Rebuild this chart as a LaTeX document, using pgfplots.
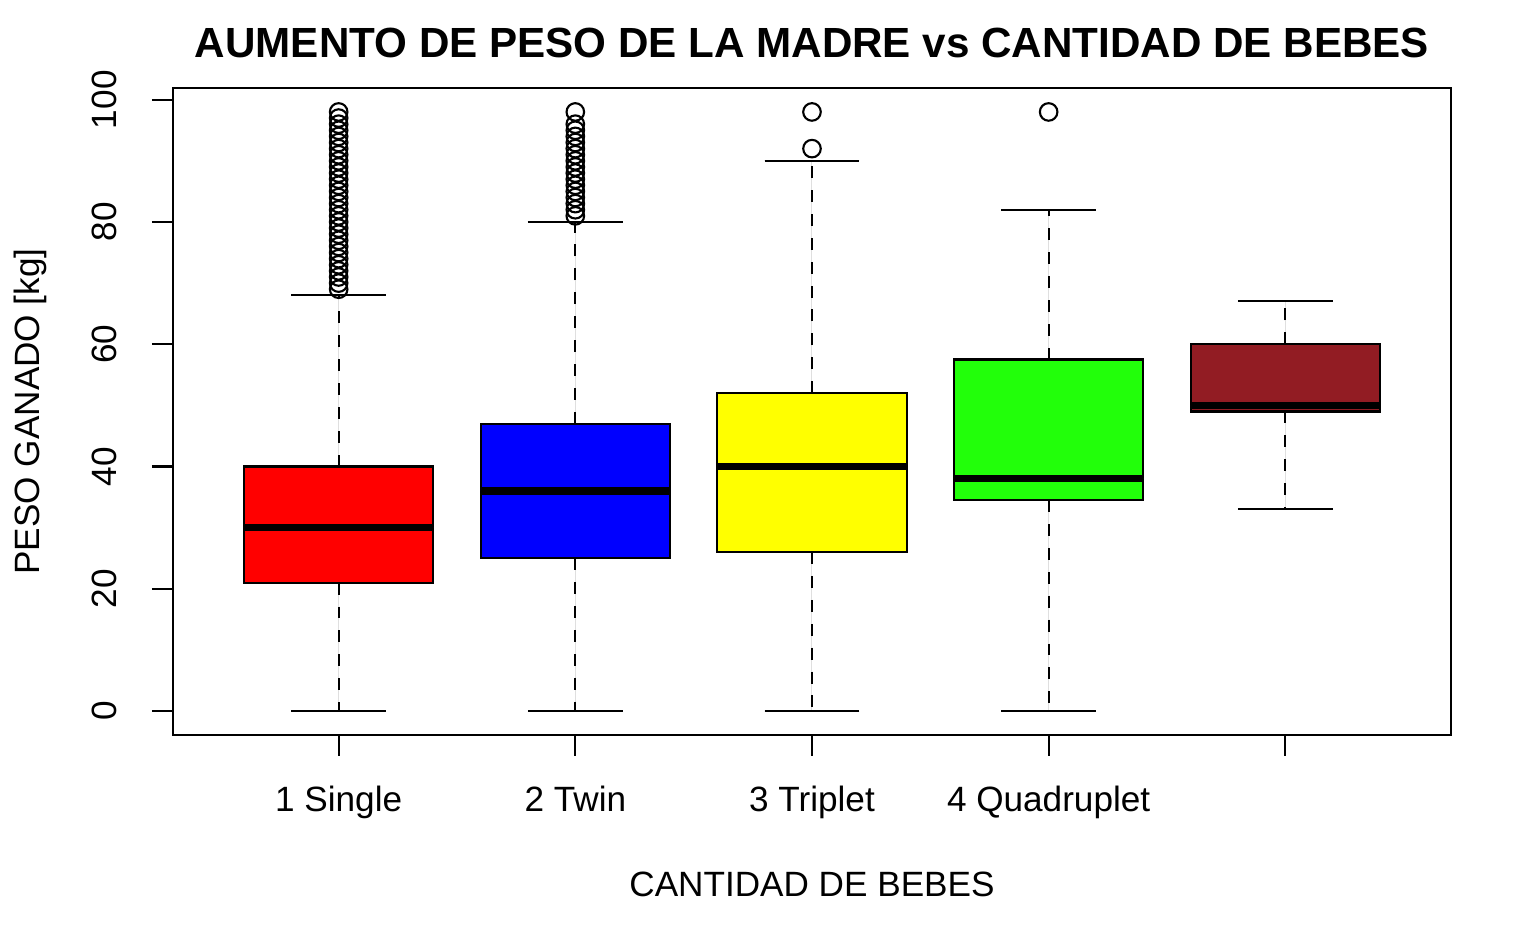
\documentclass[border=0pt]{standalone}
\usepackage{pgfplots}
\pgfplotsset{compat=1.18}
\usepgfplotslibrary{statistics}
\usepackage{fontspec}
\setmainfont{Liberation Sans}
\definecolor{bxred}{HTML}{FF0000}
\definecolor{bxblue}{HTML}{0000FF}
\definecolor{bxyellow}{HTML}{FFFF00}
\definecolor{bxgreen}{HTML}{22FF0A}
\definecolor{bxbrown}{HTML}{921C23}

\pgfplotsset{
  rbox/.style={
    boxplot/draw direction=y,
    boxplot/box extend=0.8,
    boxplot/whisker extend=0.4,
    boxplot/every box/.style={draw=black, line width=0.6pt},
    boxplot/every median/.style={draw=black, line width=2.1pt},
    boxplot/draw/lower whisker/.code={%
      \draw[black, line width=0.6pt, dash pattern=on 3.4pt off 3.4pt]
        (boxplot box cs:\pgfplotsboxplotvalue{lower quartile},0.5) --
        (boxplot box cs:\pgfplotsboxplotvalue{lower whisker},0.5);
      \draw[black, line width=0.6pt]
        (boxplot whisker cs:\pgfplotsboxplotvalue{lower whisker},0) --
        (boxplot whisker cs:\pgfplotsboxplotvalue{lower whisker},1);
    },
    boxplot/draw/upper whisker/.code={%
      \draw[black, line width=0.6pt, dash pattern=on 3.4pt off 3.4pt]
        (boxplot box cs:\pgfplotsboxplotvalue{upper quartile},0.5) --
        (boxplot box cs:\pgfplotsboxplotvalue{upper whisker},0.5);
      \draw[black, line width=0.6pt]
        (boxplot whisker cs:\pgfplotsboxplotvalue{upper whisker},0) --
        (boxplot whisker cs:\pgfplotsboxplotvalue{upper whisker},1);
    },
    mark=o, mark size=2.5pt,
    mark options={draw=black, fill=none, line width=0.6pt, solid},
  }
}

\begin{document}
\begin{tikzpicture}
\begin{axis}[
  width=12.78cm, height=6.47cm, scale only axis,
  xmin=0.3, xmax=5.7, ymin=-3.92, ymax=101.92,
  axis line style={line width=0.6pt},
  every tick/.style={black, line width=0.6pt},
  tick align=outside, major tick length=0.21cm,
  tick pos=left,
  /pgf/number format/assume math mode=true,
  xtick={1,2,3,4,5},
  xticklabels={1 Single, 2 Twin, 3 Triplet, 4 Quadruplet, {}},
  ytick={0,20,40,60,80,100},
  ticklabel style={font=\fontsize{10}{12}\selectfont},
  xticklabel style={anchor=base, yshift=-0.56cm},
  yticklabel style={rotate=90, anchor=base, yshift=0.35cm},
  title={AUMENTO DE PESO DE LA MADRE vs CANTIDAD DE BEBES},
  title style={font=\bfseries\fontsize{12}{14}\selectfont, at={(0.5,1)}, anchor=base, yshift=0.09cm},
  xlabel={CANTIDAD DE BEBES},
  xlabel style={font=\fontsize{10}{12}\selectfont, at={(0.5,0)}, anchor=base, yshift=-1.62cm},
  ylabel={PESO GANADO [kg]},
  ylabel style={font=\fontsize{10}{12}\selectfont, at={(0,0.5)}, anchor=base, yshift=1.33cm},
  clip=false,
]
% 1 Single
\addplot[rbox, fill=bxred, boxplot prepared={draw position=1,
  lower whisker=0, lower quartile=21, median=30, upper quartile=40, upper whisker=68}]
  table[row sep=\\, y index=0] {y\\ 69\\ 70\\ 71\\ 72\\ 73\\ 74\\ 75\\ 76\\ 77\\ 78\\ 79\\ 80\\ 81\\ 82\\ 83\\ 84\\ 85\\ 86\\ 87\\ 88\\ 89\\ 90\\ 91\\ 92\\ 93\\ 94\\ 95\\ 96\\ 97\\ 98\\};
% 2 Twin
\addplot[rbox, fill=bxblue, boxplot prepared={draw position=2,
  lower whisker=0, lower quartile=25, median=36, upper quartile=47, upper whisker=80}]
  table[row sep=\\, y index=0] {y\\ 81\\ 82\\ 83\\ 84\\ 85\\ 86\\ 87\\ 88\\ 89\\ 90\\ 91\\ 92\\ 93\\ 94\\ 95\\ 96\\ 98\\};
% 3 Triplet
\addplot[rbox, fill=bxyellow, boxplot prepared={draw position=3,
  lower whisker=0, lower quartile=26, median=40, upper quartile=52, upper whisker=90}]
  table[row sep=\\, y index=0] {y\\ 92\\ 98\\};
% 4 Quadruplet
\addplot[rbox, fill=bxgreen, boxplot prepared={draw position=4,
  lower whisker=0, lower quartile=34.5, median=38, upper quartile=57.5, upper whisker=82}]
  table[row sep=\\, y index=0] {y\\ 98\\};
% 5 (sin etiqueta)
\addplot[rbox, fill=bxbrown, boxplot prepared={draw position=5,
  lower whisker=33, lower quartile=49, median=50, upper quartile=60, upper whisker=67}]
  coordinates {};
\end{axis}
\path (current axis.south west) ++(-1.73cm,-2.16cm) rectangle ++(15.4cm,9.51cm);
\end{tikzpicture}
\end{document}
